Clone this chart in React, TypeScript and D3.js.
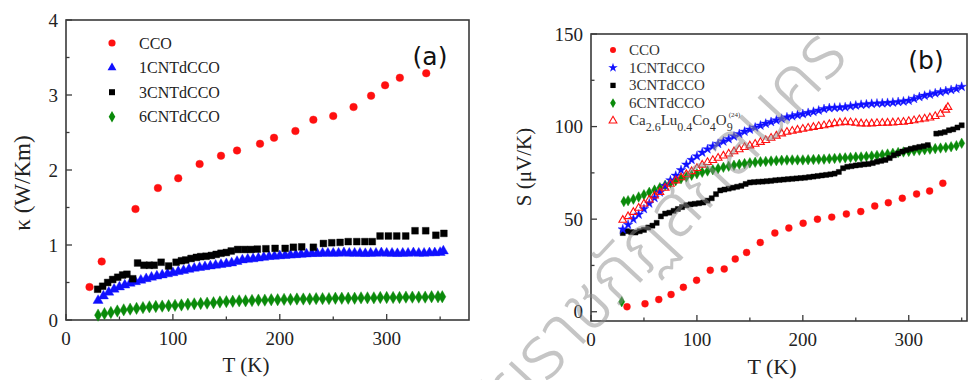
import React, { useEffect, useRef } from 'react';
import * as d3 from 'd3';

type Pt = [number, number];

// ---------- (a) thermal conductivity κ (W/Km) vs T (K) ----------
const kCCO: Pt[] = [
  [22, 0.44], [33.4, 0.78], [65, 1.48], [86, 1.76], [105, 1.89], [125, 2.08], [145, 2.19],
  [160, 2.26], [181.5, 2.35], [194.6, 2.43], [214.6, 2.52], [231.4, 2.67], [250, 2.72],
  [269, 2.84], [285.4, 2.99], [298.5, 3.13], [312.3, 3.23], [337, 3.29],
];
const k1CNT: Pt[] = [
  [30, 0.26], [35, 0.32], [40, 0.37], [45, 0.41], [50, 0.44], [55, 0.465], [60, 0.49], [65, 0.51],
  [70, 0.53], [75, 0.55], [80, 0.57], [85, 0.585], [90, 0.6], [95, 0.615], [100, 0.63], [105, 0.645],
  [110, 0.66], [115, 0.675], [120, 0.69], [125, 0.7], [130, 0.71], [135, 0.72], [140, 0.73],
  [145, 0.74], [150, 0.75], [155, 0.76], [160, 0.78], [165, 0.8], [170, 0.81], [175, 0.815],
  [180, 0.825], [185, 0.835], [190, 0.845], [195, 0.85], [200, 0.855], [205, 0.86], [210, 0.865],
  [215, 0.87], [220, 0.875], [225, 0.88], [230, 0.885], [235, 0.885], [240, 0.89], [245, 0.89],
  [250, 0.89], [255, 0.89], [260, 0.895], [265, 0.89], [270, 0.89], [275, 0.89], [280, 0.885],
  [285, 0.89], [290, 0.89], [295, 0.895], [300, 0.89], [305, 0.89], [310, 0.885], [315, 0.89],
  [320, 0.89], [325, 0.895], [330, 0.89], [335, 0.89], [340, 0.895], [345, 0.895], [350, 0.9],
  [353, 0.92],
];
const k3CNT: Pt[] = [
  [29.6, 0.41], [34.3, 0.45], [39, 0.5], [43.7, 0.54], [48.4, 0.57], [53, 0.6], [57, 0.61],
  [62.4, 0.55], [67, 0.76], [73, 0.73], [78, 0.73], [82.5, 0.73], [89, 0.77], [96, 0.72],
  [103, 0.77], [108, 0.79], [112, 0.8], [117, 0.82], [122, 0.835], [126, 0.845], [131, 0.85],
  [136, 0.86], [140.5, 0.875], [145, 0.89], [150, 0.9], [154.6, 0.92], [160.6, 0.94], [167, 0.94],
  [173, 0.94], [179, 0.945], [187, 0.95], [195.6, 0.955], [205, 0.955], [212.7, 0.97],
  [220.5, 0.975], [231.4, 0.97], [240.8, 1.02], [248.6, 1.03], [256.4, 1.035], [264, 1.045],
  [272, 1.045], [279.6, 1.045], [286.5, 1.045], [293.8, 1.12], [301.6, 1.12], [309.4, 1.12],
  [317.8, 1.12], [326.5, 1.19], [336.5, 1.19], [346, 1.13], [353.5, 1.155],
];
const k6CNT: Pt[] = [
  [30, 0.065], [36, 0.085], [42, 0.1], [48, 0.12], [54, 0.135], [60, 0.145], [66, 0.155],
  [72, 0.165], [78, 0.175], [84, 0.18], [90, 0.185], [96, 0.19], [102, 0.195], [108, 0.2],
  [114, 0.21], [120, 0.215], [126, 0.22], [132, 0.225], [138, 0.23], [144, 0.24], [150, 0.245],
  [156, 0.25], [162, 0.255], [168, 0.255], [174, 0.26], [180, 0.265], [186, 0.265], [192, 0.27],
  [198, 0.27], [204, 0.275], [210, 0.275], [216, 0.28], [222, 0.28], [228, 0.28], [234, 0.285],
  [240, 0.285], [246, 0.285], [252, 0.29], [258, 0.29], [264, 0.29], [270, 0.29], [276, 0.295],
  [282, 0.295], [288, 0.295], [294, 0.3], [300, 0.3], [306, 0.3], [312, 0.3], [318, 0.305],
  [324, 0.305], [330, 0.305], [336, 0.305], [342, 0.31], [348, 0.31], [352, 0.31],
];

// ---------- (b) Seebeck coefficient S (μV/K) vs T (K) ----------
const sCCO: Pt[] = [
  [34, 2.7], [51, 4.3], [64, 6.6], [75.6, 9.3], [87.2, 13.2], [99.7, 17], [112.6, 22.4],
  [125.8, 23.1], [136.2, 28.5], [146.9, 32], [159.8, 37.4], [173.6, 42.5], [186.8, 45.2],
  [200.3, 47.8], [213.8, 50], [227.3, 51.1], [241.1, 52.8], [254.7, 54.1], [267.9, 57.1],
  [280.7, 58.9], [293.9, 61.3], [307.4, 63.6], [319.7, 65.2], [332.2, 69.4],
];
const s1CNT: Pt[] = [
  [30, 44.5], [35, 47], [40, 50], [45, 52.5], [50, 55.5], [55, 58.5], [60, 61.5], [65, 64.5],
  [70, 68], [75, 71], [80, 73.5], [85, 76.5], [90, 79.5], [95, 82], [100, 84], [105, 86],
  [110, 87.8], [115, 89.3], [120, 90.7], [125, 92], [130, 93.3], [135, 94.7], [140, 96],
  [145, 97.3], [150, 98.4], [155, 99.5], [160, 100.6], [165, 101.6], [170, 102.5], [175, 103.4],
  [180, 104.2], [185, 105], [190, 105.6], [195, 106.2], [200, 106.8], [205, 107.4], [210, 108],
  [215, 108.7], [220, 109.5], [225, 110], [230, 110.2], [235, 110.3], [240, 110.5], [245, 111],
  [250, 111.4], [255, 111.8], [260, 112], [265, 112.3], [270, 112.5], [275, 112.6], [280, 112.8],
  [285, 113], [290, 113.3], [295, 113.6], [300, 114], [305, 115], [310, 116], [315, 116.7],
  [320, 117.3], [325, 118], [330, 118.6], [335, 119.2], [340, 119.8], [345, 120.4], [350, 121.5],
];
const s3CNT: Pt[] = [
  [30, 42.5], [34, 43.5], [38, 43], [42, 42.8], [46, 43.5], [50, 44.2], [54, 45.5], [58, 46.5],
  [62, 48], [66, 51.5], [70, 53], [74, 53.5], [78, 54.5], [82, 55.5], [86, 56.5], [90, 57.5],
  [94, 58], [98, 58.3], [102, 58.6], [106, 59], [110, 60], [114, 61.3], [118, 63.5], [122, 65.5],
  [126, 66], [130, 66.5], [134, 67], [138, 67.5], [142, 68], [146, 69], [150, 69.8], [154, 70],
  [158, 70.2], [162, 70.3], [166, 70.5], [170, 70.7], [174, 71], [178, 71.2], [182, 71.4],
  [186, 71.6], [190, 71.8], [194, 72], [198, 72.2], [202, 72.4], [206, 72.7], [210, 73],
  [214, 73.3], [218, 73.6], [222, 73.9], [226, 74.2], [230, 74.6], [234, 75.5], [238, 77.5],
  [242, 78.3], [246, 78.6], [250, 79], [254, 79.3], [258, 79.6], [262, 79.8], [266, 80.3],
  [270, 81], [274, 81.5], [278, 82], [282, 83], [286, 84.5], [290, 85.5], [294, 86.5],
  [298, 87.3], [302, 88], [306, 88.5], [310, 89], [314, 89.4], [318, 90], [326, 96.2],
  [330, 96.5], [334, 97], [338, 98], [342, 98.5], [346, 99.5], [350, 100.7],
];
const s6CNT: Pt[] = [
  [29, 5.4], [31, 59.5], [35, 60], [40, 60.8], [45, 62], [50, 63.2], [55, 64.5], [60, 65.7],
  [65, 67], [70, 68.3], [75, 69.6], [80, 70.8], [85, 71.8], [90, 72.8], [95, 73.7], [100, 74.5],
  [105, 75.3], [110, 76], [115, 76.7], [120, 77.3], [125, 78], [130, 78.6], [135, 79.1],
  [140, 79.6], [145, 80], [150, 80.4], [155, 80.7], [160, 81], [165, 81.2], [170, 81.4],
  [175, 81.6], [180, 81.8], [185, 81.9], [190, 82], [195, 82], [200, 82], [205, 82.1],
  [210, 82.2], [215, 82.3], [220, 82.4], [225, 82.6], [230, 82.8], [235, 83], [240, 83.1],
  [245, 83.3], [250, 83.5], [255, 83.6], [260, 83.8], [265, 84.1], [270, 84.4], [275, 84.8],
  [280, 85.2], [285, 85.6], [290, 86], [295, 86.3], [300, 86.6], [305, 86.9], [310, 87.2],
  [315, 87.5], [320, 87.8], [325, 88.1], [330, 88.4], [335, 88.7], [340, 89.1], [345, 89.7],
  [350, 91],
];
const sLu: Pt[] = [
  [30, 49.5], [35, 51.5], [40, 53.8], [45, 56], [50, 58.3], [55, 60.5], [60, 62.6], [65, 64.6],
  [70, 66.8], [75, 69], [80, 70.8], [85, 72.5], [90, 74.2], [95, 75.8], [100, 77.5], [105, 79.3],
  [110, 80.7], [115, 81.8], [120, 83], [125, 84.2], [130, 85.3], [135, 86.5], [140, 87.6],
  [145, 88.8], [150, 89.7], [155, 90.6], [160, 91.6], [165, 92.6], [170, 93.8], [175, 95],
  [180, 96.2], [185, 97.1], [190, 97.6], [195, 98.2], [200, 98.7], [205, 99.2], [210, 99.7],
  [215, 100.2], [220, 100.6], [225, 101.2], [230, 101.7], [235, 102.1], [240, 102.4],
  [245, 102.2], [250, 101.9], [255, 101.6], [260, 101.5], [265, 101.6], [270, 101.8],
  [275, 101.9], [280, 102], [285, 102.1], [290, 102.3], [295, 102.5], [300, 102.9], [305, 103.3],
  [310, 103.8], [315, 104.2], [320, 104.8], [325, 105.6], [330, 106.8], [335, 109], [337, 110.5],
];

const tTicks = [0, 100, 200, 300];
const tMinor = [50, 150, 250, 350];
const kTicks = [0, 1, 2, 3, 4];
const kMinor = [0.5, 1.5, 2.5, 3.5];
const sTicks = [0, 50, 100, 150];
const sMinor = [25, 75, 125];
const legendNames = ['CCO', '1CNTdCCO', '3CNTdCCO', '6CNTdCCO'];
const watermark = 'มหาวิทยาลัยราชภัฏสกลนคร';

const SERIF = 'Liberation Serif, Times New Roman, Times, serif';
const RED = '#ff1010';
const BLUE = '#1010ff';
const BLACK = '#000000';
const GREEN = '#0a8a0a';

type Sel = d3.Selection<SVGGElement, unknown, null, undefined>;

function serifText(g: Sel, size: number) {
  return g.append('text').style('font-family', SERIF).style('font-size', `${size}px`).attr('fill', '#222');
}

function frame(
  g: Sel,
  x: d3.ScaleLinear<number, number>,
  y: d3.ScaleLinear<number, number>,
  xMajor: number[], xMinor: number[], yMajor: number[], yMinor: number[],
) {
  const [x0, x1] = x.range();
  const [y0, y1] = y.range();
  g.append('rect')
    .attr('x', x0).attr('y', y1).attr('width', x1 - x0).attr('height', y0 - y1)
    .attr('fill', 'none').attr('stroke', '#3a3a3a').attr('stroke-width', 1.6);
  const tick = (list: number[], len: number, axis: 'x' | 'y') => {
    list.forEach((v) => {
      if (axis === 'x') {
        g.append('line').attr('x1', x(v)).attr('x2', x(v)).attr('y1', y0).attr('y2', y0 - len)
          .attr('stroke', '#3a3a3a').attr('stroke-width', 1.3);
      } else {
        g.append('line').attr('x1', x0).attr('x2', x0 + len).attr('y1', y(v)).attr('y2', y(v))
          .attr('stroke', '#3a3a3a').attr('stroke-width', 1.3);
      }
    });
  };
  tick(xMajor, 6, 'x');
  tick(xMinor, 3.5, 'x');
  tick(yMajor, 6, 'y');
  tick(yMinor, 3.5, 'y');
  xMajor.forEach((v) => {
    serifText(g, 19).attr('x', x(v)).attr('y', y0 + 25).attr('text-anchor', 'middle').text(String(v));
  });
  yMajor.forEach((v) => {
    serifText(g, 19).attr('x', x0 - 8).attr('y', y(v) + 6.5).attr('text-anchor', 'end').text(String(v));
  });
}

function marks(
  g: Sel, data: Pt[],
  x: d3.ScaleLinear<number, number>, y: d3.ScaleLinear<number, number>,
  type: d3.SymbolType, size: number, color: string, hollow = false,
) {
  const path = d3.symbol().type(type).size(size)();
  g.append('g').selectAll('path').data(data).join('path')
    .attr('d', path)
    .attr('transform', (d) => `translate(${x(d[0])},${y(d[1])})`)
    .attr('fill', hollow ? 'none' : color)
    .attr('stroke', color)
    .attr('stroke-width', hollow ? 1.1 : 0.4);
}

function drawA(svg: Sel) {
  const x = d3.scaleLinear().domain([0, 377]).range([66, 469]);
  const y = d3.scaleLinear().domain([0, 4]).range([320, 20]);
  const g = svg.append('g');
  frame(g, x, y, tTicks, tMinor, kTicks, kMinor);

  marks(g, k6CNT, x, y, d3.symbolDiamond, 44, GREEN);
  marks(g, k1CNT, x, y, d3.symbolTriangle, 44, BLUE);
  marks(g, k3CNT, x, y, d3.symbolSquare, 46, BLACK);
  marks(g, kCCO, x, y, d3.symbolCircle, 46, RED);

  serifText(g, 21).attr('x', 246).attr('y', 372).attr('text-anchor', 'middle').text('T (K)');
  serifText(g, 23).attr('transform', 'translate(30,183) rotate(-90)').attr('text-anchor', 'middle')
    .text('κ (W/Km)');
  g.append('text').attr('x', 430).attr('y', 65).attr('text-anchor', 'middle')
    .style('font-family', 'DejaVu Sans, sans-serif').style('font-size', '25px').attr('fill', '#111')
    .text('(a)');

  const types = [d3.symbolCircle, d3.symbolTriangle, d3.symbolSquare, d3.symbolDiamond];
  const colors = [RED, BLUE, BLACK, GREEN];
  const sizes = [40, 34, 36, 38];
  legendNames.forEach((name, i) => {
    const cy = 43 + i * 24.6;
    g.append('path').attr('d', d3.symbol().type(types[i]).size(sizes[i])())
      .attr('transform', `translate(112,${cy})`).attr('fill', colors[i]);
    serifText(g, 16).attr('x', 139).attr('y', cy + 5.5).text(name);
  });
}

function drawB(svg: Sel) {
  const x = d3.scaleLinear().domain([0, 355]).range([591, 967]);
  const y = d3.scaleLinear().domain([-5, 150]).range([321, 34]);
  const g = svg.append('g');
  frame(g, x, y, tTicks, tMinor, sTicks, sMinor);

  marks(g, s6CNT, x, y, d3.symbolDiamond, 32, GREEN);
  marks(g, s3CNT, x, y, d3.symbolSquare, 26, BLACK);
  marks(g, s1CNT, x, y, d3.symbolStar, 28, BLUE);
  marks(g, sLu, x, y, d3.symbolTriangle, 26, RED, true);
  marks(g, sCCO, x, y, d3.symbolCircle, 38, RED);

  serifText(g, 22).attr('x', 772).attr('y', 374).attr('text-anchor', 'middle').text('T (K)');
  serifText(g, 21).attr('transform', 'translate(531,167) rotate(-90)').attr('text-anchor', 'middle')
    .text('S (μV/K)');
  g.append('text').attr('x', 926).attr('y', 69).attr('text-anchor', 'middle')
    .style('font-family', 'DejaVu Sans, sans-serif').style('font-size', '25px').attr('fill', '#111')
    .text('(b)');

  const types = [d3.symbolCircle, d3.symbolStar, d3.symbolSquare, d3.symbolDiamond];
  const colors = [RED, BLUE, BLACK, GREEN];
  legendNames.forEach((name, i) => {
    const cy = 50 + i * 17.7;
    g.append('path').attr('d', d3.symbol().type(types[i]).size(28)())
      .attr('transform', `translate(613,${cy})`).attr('fill', colors[i]);
    serifText(g, 15).attr('x', 629).attr('y', cy + 5).attr('fill', '#333').text(name);
  });
  const cy = 50 + 4 * 17.7;
  g.append('path').attr('d', d3.symbol().type(d3.symbolTriangle).size(26)())
    .attr('transform', `translate(613,${cy})`).attr('fill', 'none').attr('stroke', RED).attr('stroke-width', 1.1);
  const t = serifText(g, 15).attr('x', 629).attr('y', cy + 4).attr('fill', '#333');
  const parts: [string, string][] = [
    ['Ca', 'n'], ['2.6', 'sub'], ['Lu', 'n'], ['0.4', 'sub'], ['Co', 'n'], ['4', 'sub'],
    ['O', 'n'], ['9', 'sub'], ['(24)', 'sup'],
  ];
  let shift = 0;
  parts.forEach(([s, k], i) => {
    const target = k === 'sub' ? 6 : k === 'sup' ? -8 : 0;
    const span = t.append('tspan').attr('dy', target - shift).text(s);
    if (k === 'sub') span.style('font-size', '12px');
    if (k === 'sup') span.style('font-size', '7px').attr('dx', i > 0 ? -4 : 0);
    shift = target;
  });
}

function drawMark(svg: Sel) {
  svg.append('text')
    .attr('transform', 'translate(850,58) rotate(-47)')
    .attr('text-anchor', 'end')
    .style('font-family', 'Noto Sans Thai, sans-serif')
    .style('font-size', '74px')
    .style('font-weight', '300')
    .attr('fill', '#8c8c8c')
    .attr('opacity', 0.5)
    .text(watermark);
}

export default function App() {
  const ref = useRef<SVGSVGElement>(null);
  useEffect(() => {
    document.body.style.margin = '0';
    const svg = d3.select(ref.current as SVGSVGElement);
    svg.selectAll('*').remove();
    const root = svg.append('g') as unknown as Sel;
    drawA(root);
    drawB(root);
    drawMark(root);
  }, []);
  return (
    <svg ref={ref} width={969} height={380} style={{ display: 'block', background: '#fff' }} />
  );
}
